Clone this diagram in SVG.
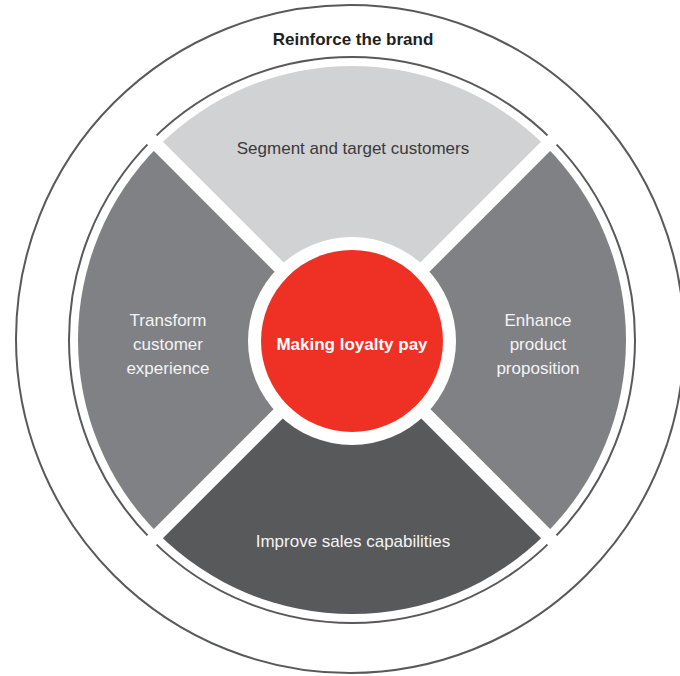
<svg xmlns="http://www.w3.org/2000/svg" width="680" height="676" viewBox="0 0 680 676">
  <style>
    .ring { fill: none; stroke: #58595b; stroke-width: 2; }
    .lbl { font-family: "Liberation Sans", Arial, sans-serif; font-size: 17px; text-anchor: middle; }
    .dark { fill: #3a3a3c; }
    .light { fill: #f4f4f4; }
    .sep { stroke: #ffffff; stroke-width: 13; }
  </style>
  <rect x="0" y="0" width="680" height="676" fill="#ffffff"/>
  <g id="outer-ring">
    <circle class="ring" cx="350" cy="339" r="334"/>
    <text class="lbl" x="353" y="45" font-weight="bold" font-size="16" fill="#231f20">Reinforce the brand</text>
  </g>
  <g id="inner-ring">
    <circle class="ring" cx="352" cy="340" r="283"/>
  </g>
  <g id="segment-top">
    <path d="M352,340 L158.25,146.25 A274,274 0 0 1 545.75,146.25 Z" fill="#d1d2d4"/>
    <text class="lbl dark" x="353" y="154">Segment and target customers</text>
  </g>
  <g id="segment-right">
    <path d="M352,340 L545.75,146.25 A274,274 0 0 1 545.75,533.75 Z" fill="#808184"/>
    <text class="lbl light" x="538" y="326">Enhance</text>
    <text class="lbl light" x="538" y="350">product</text>
    <text class="lbl light" x="538" y="374">proposition</text>
  </g>
  <g id="segment-bottom">
    <path d="M352,340 L545.75,533.75 A274,274 0 0 1 158.25,533.75 Z" fill="#58595b"/>
    <text class="lbl light" x="353" y="547">Improve sales capabilities</text>
  </g>
  <g id="segment-left">
    <path d="M352,340 L158.25,533.75 A274,274 0 0 1 158.25,146.25 Z" fill="#808184"/>
    <text class="lbl light" x="168" y="326">Transform</text>
    <text class="lbl light" x="168" y="350">customer</text>
    <text class="lbl light" x="168" y="374">experience</text>
  </g>
  <g id="connectors">
    <line class="sep" x1="140" y1="128" x2="564" y2="552"/>
    <line class="sep" x1="564" y1="128" x2="140" y2="552"/>
  </g>
  <g id="center">
    <circle cx="352" cy="341" r="104" fill="#ffffff"/>
    <circle cx="352" cy="341" r="91" fill="#ee3124"/>
    <text class="lbl" x="352" y="350" font-weight="bold" fill="#ffffff">Making loyalty pay</text>
  </g>
</svg>
